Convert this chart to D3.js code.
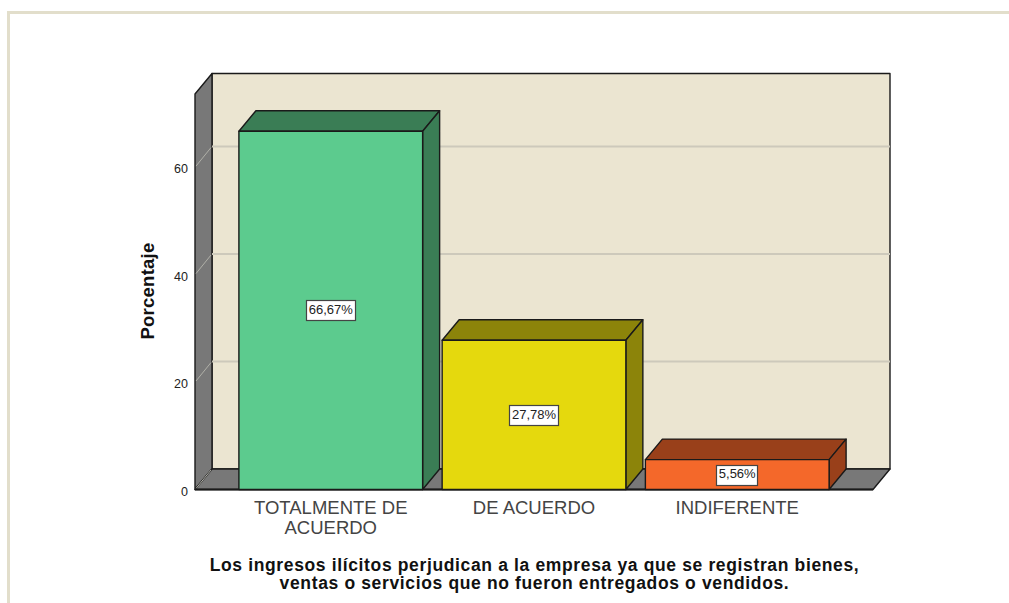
<!DOCTYPE html>
<html><head><meta charset="utf-8">
<style>html,body{margin:0;padding:0;background:#fff;overflow:hidden}svg{display:block}text{font-family:"Liberation Sans",Arial,sans-serif}</style>
<script src="https://cdn.jsdelivr.net/npm/d3@7/dist/d3.min.js"></script>
</head><body>
<script>
const categories = [["TOTALMENTE DE","ACUERDO"],["DE ACUERDO"],["INDIFERENTE"]];
const values = [66.67, 27.78, 5.56];
const valueLabels = ["66,67%","27,78%","5,56%"];
const frontColors = ["#5ccb8e","#e5d90d","#f4682a"];
const sideColors = ["#3a7d55","#8c840a","#99401a"];
const yTicks = [0,20,40,60];
const axisTitle = "Porcentaje";
const xTitle = ["Los ingresos ilícitos perjudican a la empresa ya que se registran bienes,","ventas o servicios que no fueron entregados o vendidos."];

const W=1009,H=603, dx=17, dy=-20.5, ink="#1a1a1a";
const svg=d3.select("body").append("svg").attr("width",W).attr("height",H);
svg.append("path").attr("d",`M8.5,${H}V12.5H${W}`).attr("fill","none").attr("stroke","#e2decb").attr("stroke-width",3);

const y=d3.scaleLinear().domain([0,73.6]).range([489.5,94]);
const x=d3.scaleBand().domain(d3.range(categories.length)).range([195,873]).paddingInner(0.096).paddingOuter(0.216);
const [L,R]=x.range(), [B,T]=y.range();
const poly=(pts,fill,stroke=ink,sw=1.4)=>svg.append("polygon").attr("points",pts.map(p=>p.join(",")).join(" "))
  .attr("fill",fill).attr("stroke",stroke).attr("stroke-width",sw).attr("stroke-linejoin","round");

// walls
poly([[L+dx,T+dy],[R+dx,T+dy],[R+dx,B+dy],[L+dx,B+dy]],"#ebe5d1");
poly([[L,T],[L+dx,T+dy],[L+dx,B+dy],[L,B]],"#787878");
poly([[L,B],[L+dx,B+dy],[R+dx,B+dy],[R,B]],"#787878");
// gridlines
yTicks.filter(d=>d>0).forEach(d=>{
  svg.append("line").attr("x1",L+dx).attr("x2",R+dx).attr("y1",y(d)+dy).attr("y2",y(d)+dy).attr("stroke","#cdc9bb").attr("stroke-width",2);
});
yTicks.forEach(d=>{
  svg.append("line").attr("x1",L+1).attr("x2",L+dx-1).attr("y1",y(d)-1).attr("y2",y(d)+dy+1).attr("stroke","#b0b0a8").attr("stroke-width",1);
});
svg.append("line").attr("x1",L).attr("x2",R).attr("y1",B).attr("y2",B).attr("stroke",ink).attr("stroke-width",1.8);

// bars
values.forEach((v,i)=>{
  const x0=x(i), x1=x0+x.bandwidth(), yt=y(v);
  poly([[x0,yt],[x0+dx,yt+dy],[x1+dx,yt+dy],[x1,yt]],sideColors[i]);
  poly([[x1,yt],[x1+dx,yt+dy],[x1+dx,B+dy],[x1,B]],sideColors[i]);
  poly([[x0,yt],[x1,yt],[x1,B],[x0,B]],frontColors[i]);
  // value labels
  const cx=(x0+x1)/2, cy=(yt+B)/2;
  const t=svg.append("text").attr("x",cx).attr("y",cy+0.5).attr("text-anchor","middle").attr("dominant-baseline","middle")
    .attr("font-size",13).attr("fill","#222").text(valueLabels[i]);
  const bb=t.node().getBBox();
  svg.append("rect").attr("x",Math.round(bb.x-2.5)+.5).attr("y",Math.round(cy-10)+.5)
    .attr("width",Math.round(bb.width+4)).attr("height",20).attr("fill","#fff").attr("stroke","#444").attr("stroke-width",1.2);
  t.raise();
  // category labels
  categories[i].forEach((ln,j)=>{
    svg.append("text").attr("x",cx).attr("y",514+j*20).attr("text-anchor","middle").attr("font-size",18.5)
      .attr("fill","#444").text(ln);
  });
});

// y axis
const ax=svg.append("g").attr("transform",`translate(${L},0)`).call(d3.axisLeft(y).tickValues(yTicks).tickSize(0).tickPadding(7));
ax.select(".domain").remove();
ax.selectAll("text").attr("font-size",12.5).attr("fill","#222").style("font-family",'"Liberation Sans",Arial,sans-serif')
  .attr("dy","0.45em").attr("x",-7);

svg.append("text").attr("transform","translate(154,291) rotate(-90)").attr("text-anchor","middle")
  .attr("font-size",18.5).attr("font-weight","bold").attr("letter-spacing",0.25).attr("fill","#111").text(axisTitle);

xTitle.forEach((ln,i)=>{
  svg.append("text").attr("x",534.5).attr("y",570.5+i*18).attr("text-anchor","middle")
    .attr("font-size",17.5).attr("font-weight","bold").attr("letter-spacing",0.64).attr("fill","#111").text(ln);
});
</script>
</body></html>
